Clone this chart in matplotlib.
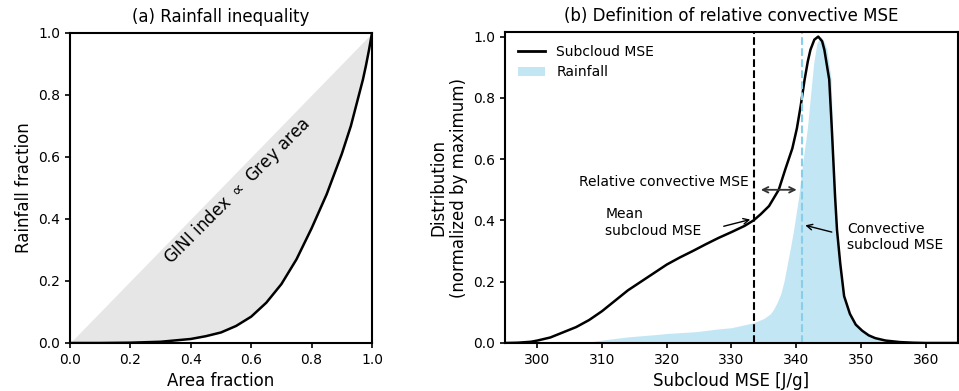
#!/usr/bin/env python

from matplotlib import pyplot as plt
from matplotlib.patches import Patch
from matplotlib.lines import Line2D

# (a) Lorenz curve of rainfall
area_frac = [0.0, 0.1, 0.2, 0.3, 0.4, 0.45, 0.5, 0.55, 0.6, 0.65, 0.7, 0.75,
             0.8, 0.85, 0.9, 0.93, 0.95, 0.97, 0.98, 0.99, 1.0]
rain_frac = [0.0, 0.0, 0.001, 0.004, 0.013, 0.022, 0.034, 0.055, 0.085,
             0.13, 0.19, 0.27, 0.37, 0.48, 0.61, 0.7, 0.775, 0.85, 0.895,
             0.945, 1.0]

# (b) subcloud MSE distribution (black line)
mse_x = [295, 297, 299, 300, 302, 304, 306, 308, 310, 312, 314, 316, 318, 320,
         322, 324, 326, 328, 330, 332, 333.4, 334.5, 335.8, 337.3, 338.3,
         339.4, 340.1, 340.7, 341.3, 341.8, 342.2, 342.8, 343.4, 344.0,
         344.35, 345.1, 345.5, 346.0, 346.3, 346.8, 347.4, 348.3, 349.2,
         350.2, 351.2, 352.2, 353.8, 356, 358, 360, 365]
mse_y = [0.0, 0.001, 0.004, 0.008, 0.018, 0.035, 0.052, 0.075, 0.104, 0.138,
         0.172, 0.2, 0.228, 0.256, 0.279, 0.3, 0.322, 0.343, 0.362, 0.382,
         0.4, 0.42, 0.447, 0.5, 0.566, 0.635, 0.7, 0.775, 0.86, 0.92, 0.957,
         0.99, 1.0, 0.985, 0.957, 0.86, 0.7, 0.48, 0.37, 0.26, 0.153, 0.095,
         0.06, 0.04, 0.025, 0.016, 0.008, 0.003, 0.001, 0.0, 0.0]

# (b) rainfall distribution (blue fill)
rain_x = [295, 306, 307.5, 310, 314, 318, 320, 324.5, 328, 330, 333.4, 335,
          336, 336.5, 337, 337.6, 338.1, 338.6, 339.1, 339.6, 340.4, 341.0,
          341.7, 342.2, 342.7, 343.2, 343.8, 344.4, 344.75, 345.4, 345.6,
          346.0, 346.3, 346.8, 347.4, 348.3, 349.2, 350.2, 351.2, 352.2,
          353.8, 356, 358, 360, 365]
rain_y = [0.0, 0.0, 0.002, 0.0095, 0.02, 0.027, 0.031, 0.037, 0.046, 0.05,
          0.066, 0.08, 0.095, 0.11, 0.13, 0.16, 0.2, 0.255, 0.31, 0.37, 0.479,
          0.588, 0.697, 0.805, 0.914, 0.979, 1.0, 0.98, 0.957, 0.86, 0.697,
          0.48, 0.37, 0.26, 0.153, 0.095, 0.06, 0.04, 0.025, 0.016, 0.008,
          0.003, 0.001, 0.0, 0.0]

mean_mse = 333.45
conv_mse = 340.9

plt.rcParams['axes.linewidth'] = 1.5
plt.rcParams['xtick.major.width'] = 1.2
plt.rcParams['ytick.major.width'] = 1.2
plt.rcParams['xtick.labelsize'] = 10
plt.rcParams['ytick.labelsize'] = 10

fig = plt.figure(figsize=(9.59, 3.91), dpi=100)
ax1 = fig.add_axes([70 / 959, 48 / 391, 302 / 959, 310 / 391])
ax2 = fig.add_axes([505 / 959, 48 / 391, 453 / 959, 311 / 391])

# panel (a)
ax1.fill_between(area_frac, area_frac, rain_frac, color='0.9', lw=0)
ax1.plot(area_frac, rain_frac, 'k', lw=1.8)
ax1.set_xlim(0, 1)
ax1.set_ylim(0, 1)
ax1.set_xlabel('Area fraction', fontsize=12)
ax1.set_ylabel('Rainfall fraction', fontsize=12)
ax1.set_title('(a) Rainfall inequality', fontsize=12, pad=8)
ax1.text(0.555, 0.49, 'GINI index $\\propto$ Grey area', rotation=45,
         rotation_mode='anchor', ha='center', va='center', fontsize=12)

# panel (b)
ax2.fill_between(rain_x, 0, rain_y, color='skyblue', alpha=0.5, lw=0)
ax2.plot(mse_x, mse_y, 'k', lw=1.8)
ax2.axvline(mean_mse, color='k', ls='--', lw=1.5)
ax2.axvline(conv_mse, color='skyblue', ls='--', lw=1.5)
ax2.set_xlim(295, 365)
ax2.set_ylim(0, 1.015)
ax2.set_yticks([0, 0.2, 0.4, 0.6, 0.8, 1.0])
ax2.set_xlabel('Subcloud MSE [J/g]', fontsize=12)
ax2.set_ylabel('Distribution\n(normalized by maximum)', fontsize=12)
ax2.set_title('(b) Definition of relative convective MSE', fontsize=12, pad=8)

ax2.annotate('', xy=(334.1, 0.5), xytext=(340.5, 0.5),
             arrowprops=dict(arrowstyle='<->', color='0.2', lw=1.3))
ax2.text(332.6, 0.525, 'Relative convective MSE', ha='right', va='center',
         fontsize=10)

ax2.text(310.5, 0.393, 'Mean\nsubcloud MSE', ha='left', va='center',
         fontsize=10)
ax2.annotate('', xy=(332.9, 0.403), xytext=(328.8, 0.381),
             arrowprops=dict(arrowstyle='->', color='k', lw=1.0,
                             shrinkA=0, shrinkB=0))

ax2.text(347.85, 0.345, 'Convective\nsubcloud MSE', ha='left', va='center',
         fontsize=10)
ax2.annotate('', xy=(341.4, 0.384), xytext=(345.5, 0.362),
             arrowprops=dict(arrowstyle='->', color='k', lw=1.0,
                             shrinkA=0, shrinkB=0))

handles = [Line2D([], [], color='k', lw=2),
           Patch(facecolor='skyblue', alpha=0.5, lw=0)]
ax2.legend(handles, ['Subcloud MSE', 'Rainfall'], loc='upper left',
           frameon=False, fontsize=10)

fig.savefig('out.png', dpi=100)
